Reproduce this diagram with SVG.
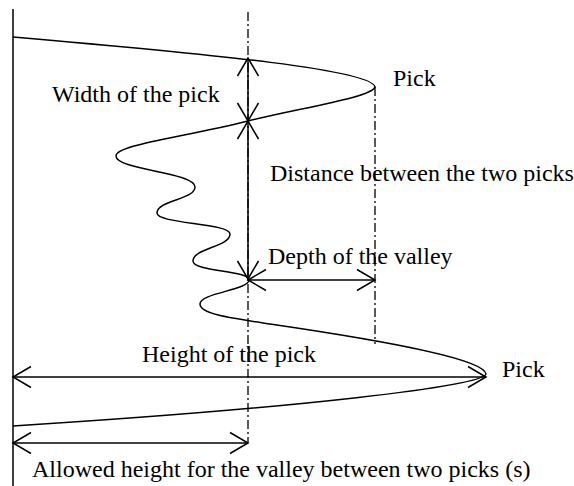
<svg xmlns="http://www.w3.org/2000/svg" width="574" height="486" viewBox="0 0 574 486">
<style>
.ln{fill:none;stroke:#000;stroke-width:1.5}
.dash{fill:none;stroke:#000;stroke-width:1.3;stroke-dasharray:9,3,2,3}
.arr{fill:none;stroke:#000;stroke-width:1.5;marker-start:url(#ah);marker-end:url(#ah)}
text{font-family:"Liberation Serif","Times New Roman",serif;font-size:24px;fill:#000}
</style>
<defs>
<marker id="ah" markerUnits="userSpaceOnUse" viewBox="-20 -12 22 24" markerWidth="22" markerHeight="24" refX="0" refY="0" orient="auto-start-reverse" overflow="visible">
<path d="M-18,-10.5 L0,0 L-18,10.5" fill="none" stroke="#000" stroke-width="1.5"/>
</marker>
</defs>
<rect width="574" height="486" fill="#fff"/>
<g id="axis">
<line class="ln" x1="13" y1="9" x2="13" y2="486"/>
</g>
<g id="curve">
<path class="ln" d="M13,37 C220,55 372,70 375,87 C373,97 300,108 248,121 C180,138 116,145 116,156 C116,170 195,172 195,187 C195,200 157,200 157,213 C157,224 230,223 230,234 C230,247 193,248 193,261 C193,272 249,270 249,280 C249,290 200,293 200,304 C200,314 230,318 270,324 C400,343 484,360 486,374 C484,386 300,408 13,426"/>
</g>
<g id="connectors">
<line class="dash" x1="248" y1="12" x2="248" y2="443"/>
<line class="dash" x1="375" y1="87" x2="375" y2="344"/>
<line class="arr" x1="248" y1="58" x2="248" y2="121"/>
<line class="arr" x1="248" y1="121" x2="248" y2="279"/>
<line class="arr" x1="248" y1="280" x2="375" y2="280"/>
<line class="arr" x1="13" y1="377" x2="486" y2="377"/>
<line class="arr" x1="13" y1="443" x2="248" y2="443"/>
</g>
<g id="labels">
<text x="52" y="102">Width of the pick</text>
<text x="393" y="86">Pick</text>
<text x="270" y="181">Distance between the two picks</text>
<text x="268" y="264">Depth of the valley</text>
<text x="142" y="362">Height of the pick</text>
<text x="502" y="377">Pick</text>
<text x="32" y="477">Allowed height for the valley between two picks (s)</text>
</g>
</svg>
